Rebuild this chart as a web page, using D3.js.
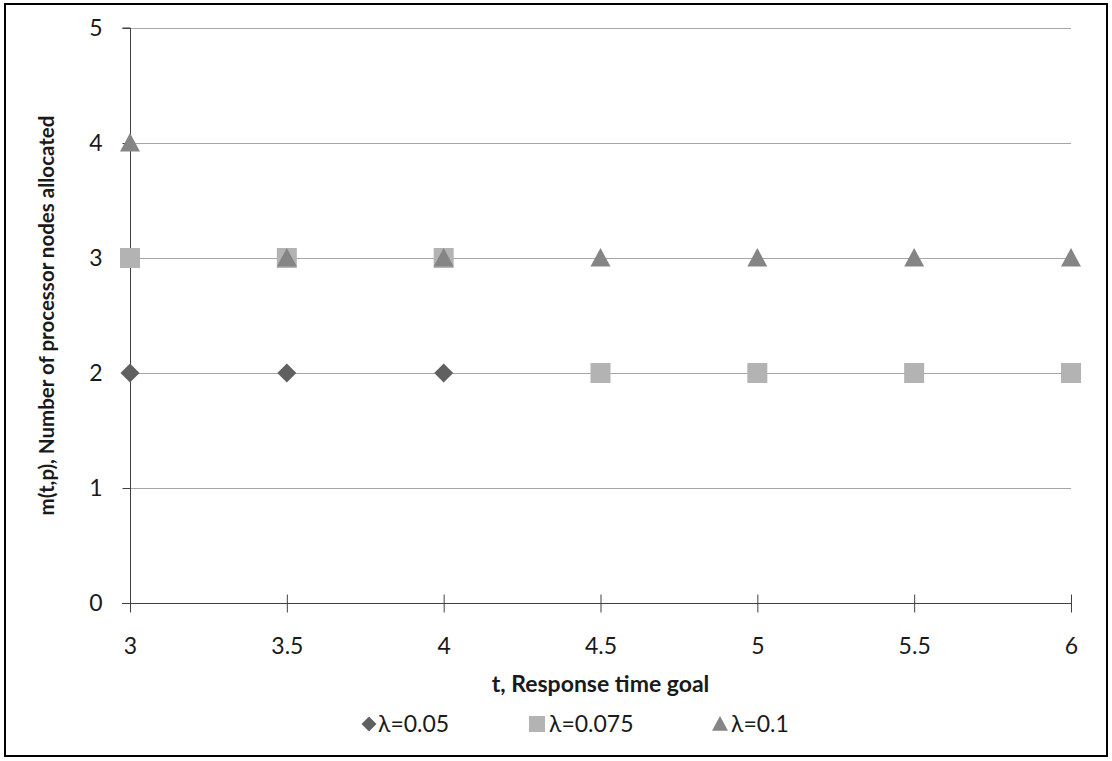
<!DOCTYPE html>
<html>
<head>
<meta charset="utf-8">
<script src="https://cdn.jsdelivr.net/npm/d3@7"></script>
<style>
  body { margin: 0; background: #fff; }
  svg text { font-family: Lato, "Open Sans", sans-serif; fill: #1a1a1a; }
</style>
</head>
<body>
<svg id="chart" width="1112" height="761"></svg>
<script>
// Response time goals (x) and allocated nodes per arrival rate
const tValues = [3, 3.5, 4, 4.5, 5, 5.5, 6];
const xTicks = [3, 3.5, 4, 4.5, 5, 5.5, 6];
const yTicks = [0, 1, 2, 3, 4, 5];
const lambda005 = [2, 2, 2, 2, 2, 2, 2];
const lambda0075 = [3, 3, 3, 2, 2, 2, 2];
const lambda01 = [4, 3, 3, 3, 3, 3, 3];
const seriesNames = ["λ=0.05", "λ=0.075", "λ=0.1"];

const series = [
  { name: seriesNames[0], values: lambda005, shape: "diamond", color: "#606060" },
  { name: seriesNames[1], values: lambda0075, shape: "square", color: "#b3b3b3" },
  { name: seriesNames[2], values: lambda01, shape: "triangle", color: "#858585" }
];

const FS = 23;
const svg = d3.select("#chart");

// outer frame
svg.append("rect")
  .attr("x", 5).attr("y", 4).attr("width", 1102).attr("height", 752)
  .attr("fill", "none").attr("stroke", "#000").attr("stroke-width", 2);

const x = d3.scaleLinear().domain([3, 6]).range([130, 1071]);
const y = d3.scaleLinear().domain([0, 5]).range([603, 28]);

// horizontal gridlines
svg.append("g").selectAll("line")
  .data(yTicks.filter(v => v > 0))
  .join("line")
  .attr("x1", x(3)).attr("x2", x(6))
  .attr("y1", d => Math.round(y(d)) + 0.5).attr("y2", d => Math.round(y(d)) + 0.5)
  .attr("stroke", "#a6a6a6").attr("stroke-width", 1);

// y axis
const yAxis = svg.append("g")
  .attr("transform", `translate(${x(3) + 0.5},0)`)
  .call(d3.axisLeft(y).tickValues(yTicks).tickSize(8).tickPadding(20).tickFormat(d3.format("d")));
yAxis.select(".domain").attr("stroke", "#404040").attr("d", `M-8,${y(5)}H0V${y(0)}`);
yAxis.selectAll(".tick line").attr("stroke", "#404040");
yAxis.selectAll(".tick text").attr("font-size", FS).attr("fill", "#1a1a1a");

// x axis
const xAxis = svg.append("g")
  .attr("transform", `translate(0,${y(0) + 0.5})`)
  .call(d3.axisBottom(x).tickValues(xTicks).tickSize(9).tickPadding(25).tickFormat(d => String(d)));
xAxis.select(".domain").attr("stroke", "#404040").attr("d", `M${x(3) - 8},0H${x(6)}`);
xAxis.selectAll(".tick line").attr("stroke", "#404040").attr("y1", -9);
xAxis.selectAll(".tick text").attr("font-size", FS).attr("fill", "#1a1a1a");

// axis titles
svg.append("text")
  .attr("x", x(4.5)).attr("y", 692)
  .attr("text-anchor", "middle").attr("font-size", FS).attr("font-weight", "bold")
  .text("t, Response time goal");

svg.append("text")
  .attr("transform", `translate(54,${y(2.5)}) rotate(-90)`)
  .attr("text-anchor", "middle").attr("font-size", 20.5).attr("font-weight", "bold")
  .text("m(t,p), Number of processor nodes allocated");

// marker paths
function markerPath(shape, s) {
  const h = s / 2;
  if (shape === "diamond") return `M0,${-h}L${h},0L0,${h}L${-h},0Z`;
  if (shape === "square") return `M${-h},${-h}H${h}V${h}H${-h}Z`;
  return `M0,${-h}L${h},${h * 0.85}H${-h}Z`;
}

const sizes = { diamond: 19, square: 20, triangle: 20 };

series.forEach(s => {
  svg.append("g").selectAll("path")
    .data(tValues.map((t, i) => ({ t, v: s.values[i] })))
    .join("path")
    .attr("transform", d => `translate(${x(d.t)},${y(d.v)})`)
    .attr("d", markerPath(s.shape, sizes[s.shape]))
    .attr("fill", s.color);
});

// legend
const legendItems = [
  { s: series[0], mx: 369, tx: 378, size: 15 },
  { s: series[1], mx: 537, tx: 549, size: 16 },
  { s: series[2], mx: 720, tx: 731, size: 16 }
];
const legendY = 724;
legendItems.forEach(item => {
  svg.append("path")
    .attr("transform", `translate(${item.mx},${legendY})`)
    .attr("d", markerPath(item.s.shape, item.size))
    .attr("fill", item.s.color);
  svg.append("text")
    .attr("x", item.tx).attr("y", legendY + 8)
    .attr("font-size", FS)
    .text(item.s.name);
});
</script>
</body>
</html>
